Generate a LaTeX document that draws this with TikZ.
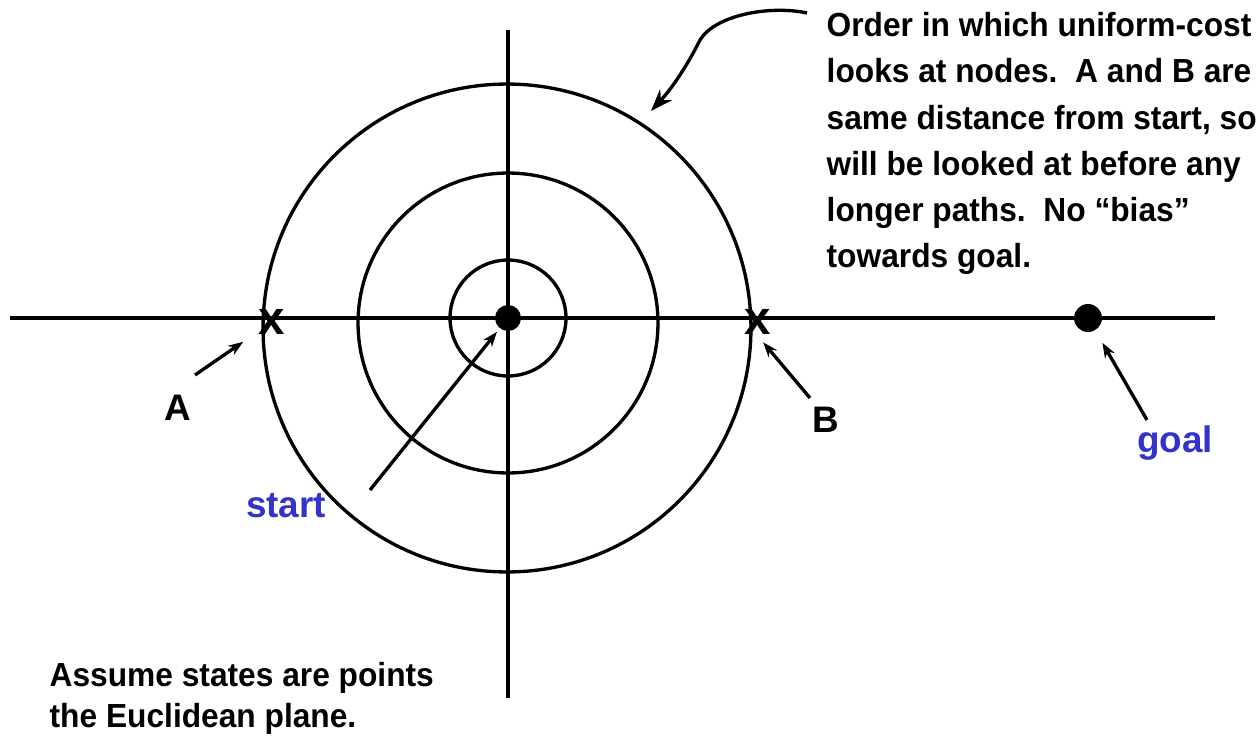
\documentclass[tikz,border=0pt]{standalone}
\usepackage{fontspec}
\setmainfont{Liberation Sans}
\newfontfamily\notefont{Liberation Sans}[FakeStretch=0.95]
\usepackage{xcolor}
\definecolor{labelblue}{HTML}{3333CC}
\usetikzlibrary{arrows.meta, positioning}

\begin{document}
\begin{tikzpicture}[x=0.02cm, y=-0.02cm, line width=1.9pt,
  note/.style={anchor=base west, inner sep=0pt, font=\notefont\bfseries\fontsize{19}{23}\selectfont},
  lbl/.style={anchor=base, inner sep=0pt, font=\bfseries\fontsize{21}{25}\selectfont},
  cross/.style={inner sep=0pt, font=\bfseries\fontsize{27}{27}\selectfont},
  ring/.style={circle, draw, inner sep=0pt},
  dot/.style={circle, fill, inner sep=0pt},
  arr/.style={-{Stealth[length=0.3cm, width=0.22cm]}}]
  \useasboundingbox (0,0) rectangle (1256,740);

  % axes
  \draw (10,318) -- (1215,318);
  \draw (508,30) -- (508,698);

  % cost contours
  \node[ring, minimum size=2.32cm] (inner)  at (508,318) {};
  \node[ring, minimum size=6cm]    (middle) at (508,323) {};
  \node[ring, minimum size=9.76cm] (outer)  at (507,328) {};

  \node[dot, minimum size=0.52cm] (start) at (508,318) {};
  \node[dot, minimum size=0.56cm] (goal)  at (1088,318) {};
  \node[cross] (xA) at (272,322) {x};
  \node[cross] (xB) at (758,322) {x};

  % labels
  \node[lbl]            (labA)     at (178,420)  {A};
  \node[lbl]            (labB)     at (826,432)  {B};
  \node[lbl, labelblue] (labStart) at (286,517)  {start};
  \node[lbl, labelblue] (labGoal)  at (1175,452) {goal};

  \coordinate (tailA)     at (195,375);
  \coordinate (tailB)     at (810,398);
  \coordinate (tailStart) at (370,490);
  \coordinate (tailGoal)  at (1147,420);
  \draw[arr, shorten >=0.7cm]  (tailA) -- (xA.center);
  \draw[arr, shorten >=0.16cm] (tailB) -- (xB.south);
  \draw[arr, shorten >=0.06cm] (tailStart) -- (start);
  \draw[arr, shorten >=0.26cm] (tailGoal) -- (goal);

  % note on the right
  \node[note] (note1) at (825,37)  {Order in which uniform-cost};
  \node[note] (note2) at (825,83)  {looks at nodes.\ \ A and B are};
  \node[note] (note3) at (825,129) {same distance from start, so};
  \node[note] (note4) at (825,175) {will be looked at before any};
  \node[note] (note5) at (825,221) {longer paths.\ \ No “bias”};
  \node[note] (note6) at (825,267) {towards goal.};

  \coordinate (tailNote) at (807,13);
  \draw[-{Stealth[length=0.44cm, width=0.32cm]}, shorten >=0.3cm]
    (tailNote) .. controls (770,5) and (715,15) .. (700,40)
    .. controls (690,60) and (675,85) .. (outer.57);

  % note at the bottom
  \node[note] (assume1) at (48,686) {Assume states are points};
  \node[note] (assume2) at (48,727) {the Euclidean plane.};
\end{tikzpicture}
\end{document}
